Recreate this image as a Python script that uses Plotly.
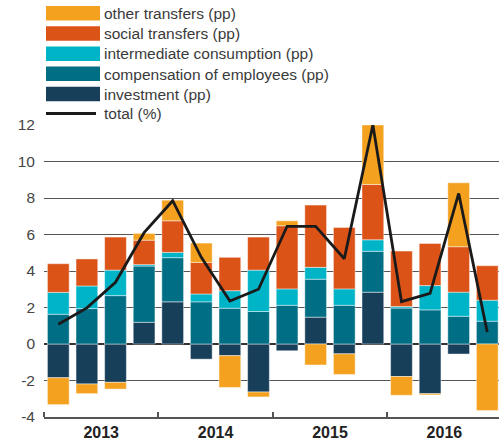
import plotly.graph_objects as go

# Quarterly contributions to government expenditure growth, 2013Q1-2016Q4
quarters = list(range(16))
years = ["2013", "2014", "2015", "2016"]

investment = [-1.85, -2.19, -2.10, 1.19, 2.31, -0.83, -0.64, -2.63,
              -0.37, 1.47, -0.54, 2.84, -1.78, -2.72, -0.55, 0.0]
compensation = [1.63, 1.94, 2.65, 3.08, 2.42, 2.31, 1.96, 1.78,
                2.12, 2.08, 2.12, 2.24, 1.97, 1.87, 1.52, 1.25]
intermediate = [1.20, 1.24, 1.40, 0.08, 0.29, 0.43, 0.96, 2.27,
                0.90, 0.65, 0.90, 0.63, 0.08, 1.33, 1.32, 1.15]
social = [1.57, 1.48, 1.81, 1.34, 1.73, 1.73, 1.83, 1.81,
          3.46, 3.41, 3.37, 3.03, 3.04, 2.31, 2.49, 1.89]
other = [-1.47, -0.53, -0.37, 0.37, 1.13, 1.06, -1.74, -0.27,
         0.27, -1.15, -1.13, 3.26, -1.03, -0.07, 3.50, -3.65]
total = [1.08, 1.98, 3.38, 6.10, 7.85, 4.75, 2.35, 3.00,
         6.45, 6.45, 4.67, 12.0, 2.32, 2.78, 8.25, 0.65]

y_ticks = [-4, -2, 0, 2, 4, 6, 8, 10, 12]
y_tick_labels = ["-4", "-2", "0", "2", "4", "6", "8", "10", "12"]

series = [
    ("investment (pp)", investment, "#183F5A"),
    ("compensation of employees (pp)", compensation, "#006E84"),
    ("intermediate consumption (pp)", intermediate, "#00B4C8"),
    ("social transfers (pp)", social, "#DC5318"),
    ("other transfers (pp)", other, "#F4A11F"),
]
line_name = "total (%)"
line_color = "#1a1a1a"

W, H = 499, 442
L, R, T, B = 44, 0, 125, 25
plot_w = W - L - R
plot_h = H - T - B

fig = go.Figure()
for name, vals, color in series:
    fig.add_trace(go.Bar(
        x=quarters, y=vals, name=name,
        marker=dict(color=color, line=dict(color="rgba(255,255,255,0.55)", width=0.8)),
        showlegend=False,
    ))
fig.add_trace(go.Scatter(
    x=quarters, y=total, name=line_name, mode="lines",
    line=dict(color=line_color, width=2.8), showlegend=False,
))

# Hand-built legend above the plot (wide swatches)
def px_x(px):
    return (px - L) / plot_w

def px_y(py):
    return (H - B - py) / plot_h

legend_font = dict(family="Liberation Sans, Arial, sans-serif", size=15.5, color="#3a3a3a")
shapes = []
annotations = []
legend_rows = list(reversed(series))
row_top = 6
pitch = 20.2
for i, (name, _, color) in enumerate(legend_rows):
    top = row_top + i * pitch
    shapes.append(dict(
        type="rect", xref="paper", yref="paper",
        x0=px_x(46), x1=px_x(100), y0=px_y(top + 14.5), y1=px_y(top),
        fillcolor=color, line=dict(width=0), layer="above",
    ))
    annotations.append(dict(
        xref="paper", yref="paper", x=px_x(102), y=px_y(top + 7.5),
        text=name, showarrow=False, xanchor="left", yanchor="middle",
        font=legend_font,
    ))
line_y = row_top + len(legend_rows) * pitch + 6.5
shapes.append(dict(
    type="line", xref="paper", yref="paper",
    x0=px_x(46), x1=px_x(96), y0=px_y(line_y), y1=px_y(line_y),
    line=dict(color=line_color, width=3),
))
annotations.append(dict(
    xref="paper", yref="paper", x=px_x(102), y=px_y(line_y),
    text=line_name, showarrow=False, xanchor="left", yanchor="middle",
    font=legend_font,
))

fig.update_layout(
    width=W, height=H,
    margin=dict(l=L, r=R, t=T, b=B, pad=0),
    paper_bgcolor="white", plot_bgcolor="white",
    barmode="relative", bargap=0.24,
    shapes=shapes, annotations=annotations,
    font=dict(family="Liberation Sans, Arial, sans-serif", color="#333"),
    xaxis=dict(
        range=[-0.5, 15.41],
        tickmode="array", tickvals=[1.5, 5.5, 9.5, 13.5],
        ticktext=["<b>%s</b>" % y for y in years],
        ticks="", showgrid=False, zeroline=False,
        tickfont=dict(size=16, color="#222"),
        showline=True, linecolor="#555", linewidth=1.5,
        minor=dict(tickmode="array", tickvals=[-0.5, 3.5, 7.5, 11.5],
                   ticks="inside", ticklen=5, tickcolor="#555", tickwidth=1.5,
                   showgrid=False),
        fixedrange=True,
    ),
    yaxis=dict(
        range=[-4, 12],
        tickmode="array", tickvals=y_ticks, ticktext=y_tick_labels,
        showgrid=True, gridcolor="#555", gridwidth=1,
        zeroline=True, zerolinecolor="#333", zerolinewidth=1.6,
        ticks="", ticklabelstandoff=8,
        tickfont=dict(size=15.5, color="#444"),
        showline=False, fixedrange=True,
    ),
)

fig.write_html("out.html")
